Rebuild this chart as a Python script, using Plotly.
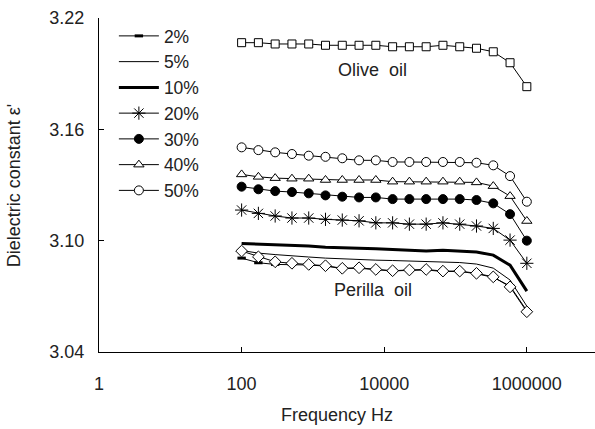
import plotly.graph_objects as go

freq = [100, 171.9, 295.6, 508.1, 873.4, 1501, 2581, 4437, 7627, 13110,
        22540, 38750, 66600, 114500, 196800, 338300, 581700, 1000000]

olive = [3.2067, 3.2067, 3.2060, 3.2060, 3.2060, 3.2053, 3.2053, 3.2053, 3.2053,
         3.2045, 3.2045, 3.2045, 3.2053, 3.2045, 3.2037, 3.2018, 3.1959, 3.1830]
p50 = [3.1503, 3.1488, 3.1476, 3.1467, 3.1458, 3.1452, 3.1444, 3.1433, 3.1433,
       3.1424, 3.1424, 3.1424, 3.1424, 3.1424, 3.1420, 3.1406, 3.1348, 3.1210]
p40 = [3.1357, 3.1344, 3.1337, 3.1334, 3.1334, 3.1327, 3.1327, 3.1327, 3.1327,
       3.1318, 3.1318, 3.1318, 3.1318, 3.1318, 3.1314, 3.1294, 3.1240, 3.1106]
p30 = [3.1291, 3.1277, 3.1267, 3.1262, 3.1255, 3.1244, 3.1237, 3.1233, 3.1233,
       3.1224, 3.1224, 3.1224, 3.1224, 3.1224, 3.1219, 3.1201, 3.1143, 3.1000]
p20 = [3.1165, 3.1147, 3.1133, 3.1122, 3.1122, 3.1115, 3.1111, 3.1107, 3.1096,
       3.1096, 3.1089, 3.1089, 3.1096, 3.1089, 3.1079, 3.1066, 3.1003, 3.0878]
p10 = [3.0985, 3.0982, 3.0978, 3.0975, 3.0971, 3.0964, 3.0960, 3.0959, 3.0956,
       3.0953, 3.0949, 3.0944, 3.0949, 3.0944, 3.0939, 3.0922, 3.0868, 3.0728]
p5 = [3.0947, 3.0933, 3.0925, 3.0917, 3.0912, 3.0906, 3.0901, 3.0898, 3.0895,
      3.0893, 3.0890, 3.0887, 3.0885, 3.0882, 3.0874, 3.0852, 3.0788, 3.0647]
p2 = [3.0906, 3.0881, 3.0872, 3.0872, 3.0869, 3.0863, 3.0850, 3.0851, 3.0843,
      3.0837, 3.0840, 3.0842, 3.0834, 3.0834, 3.0822, 3.0802, 3.0756, 3.0622]
perilla = [3.0944, 3.0913, 3.0886, 3.0878, 3.0872, 3.0865, 3.0851, 3.0854, 3.0845,
           3.0838, 3.0842, 3.0845, 3.0836, 3.0836, 3.0824, 3.0805, 3.0751, 3.0617]

x_ticks = [1, 100, 10000, 1000000]
x_ticklabels = ["1", "100", "10000", "1000000"]
y_ticks = [3.04, 3.10, 3.16, 3.22]
y_ticklabels = ["3.04", "3.10", "3.16", "3.22"]

FONT = "Liberation Sans, Arial, sans-serif"
BLACK = "black"

fig = go.Figure()

def add(name, y, symbol=None, size=8, width=1, fill="white", legend=True, mline=1):
    mode = "lines+markers" if symbol else "lines"
    marker = None
    if symbol:
        marker = dict(symbol=symbol, size=size, color=fill,
                      line=dict(color=BLACK, width=mline))
    fig.add_trace(go.Scatter(x=freq, y=y, name=name, mode=mode,
                             line=dict(color=BLACK, width=width),
                             marker=marker, showlegend=legend))

add("2%", p2, symbol="line-ew", size=6, width=1, mline=3)
add("5%", p5, width=1)
add("10%", p10, width=3)
add("20%", p20, symbol="asterisk-open", size=11, fill=BLACK, mline=1)
add("30%", p30, symbol="circle", size=9, fill=BLACK)
add("40%", p40, symbol="triangle-up", size=9)
add("50%", p50, symbol="circle", size=9)
add("Olive oil", olive, symbol="square", size=8, legend=False)
add("Perilla oil", perilla, symbol="diamond", size=9, legend=False)

fig.update_layout(
    width=595, height=429,
    margin=dict(l=99, r=0, t=18, b=77),
    paper_bgcolor="white", plot_bgcolor="white",
    font=dict(family=FONT, size=18, color="#222"),
    legend=dict(x=0.03, y=1.0, xanchor="left", yanchor="top",
                bgcolor="rgba(0,0,0,0)", borderwidth=0,
                font=dict(size=17.5), tracegroupgap=0, itemwidth=40),
    xaxis=dict(type="log", range=[0, 6.956], tickvals=x_ticks, ticktext=x_ticklabels,
               ticks="inside", ticklen=5, tickcolor=BLACK, showline=True,
               linecolor=BLACK, linewidth=1, showgrid=False, zeroline=False,
               ticklabelstandoff=15),
    yaxis=dict(range=[3.04, 3.22], tickvals=y_ticks, ticktext=y_ticklabels,
               ticks="inside", ticklen=5, tickcolor=BLACK, showline=True,
               linecolor=BLACK, linewidth=1, showgrid=False, zeroline=False,
               ticklabelstandoff=10),
    annotations=[
        dict(text="Olive  oil", x=3.83, y=3.192, xref="x", yref="y",
             showarrow=False, font=dict(size=18)),
        dict(text="Perilla  oil", x=3.84, y=3.0734, xref="x", yref="y",
             showarrow=False, font=dict(size=18)),
        dict(text="Frequency Hz", x=0.48, y=-0.225, xref="paper", yref="paper",
             showarrow=False, font=dict(size=18)),
        dict(text="Dielectric constant ε'", x=-0.195, y=0.5, xref="paper", yref="paper",
             showarrow=False, textangle=-90, font=dict(size=18)),
    ],
)

fig.write_html("out.html")
